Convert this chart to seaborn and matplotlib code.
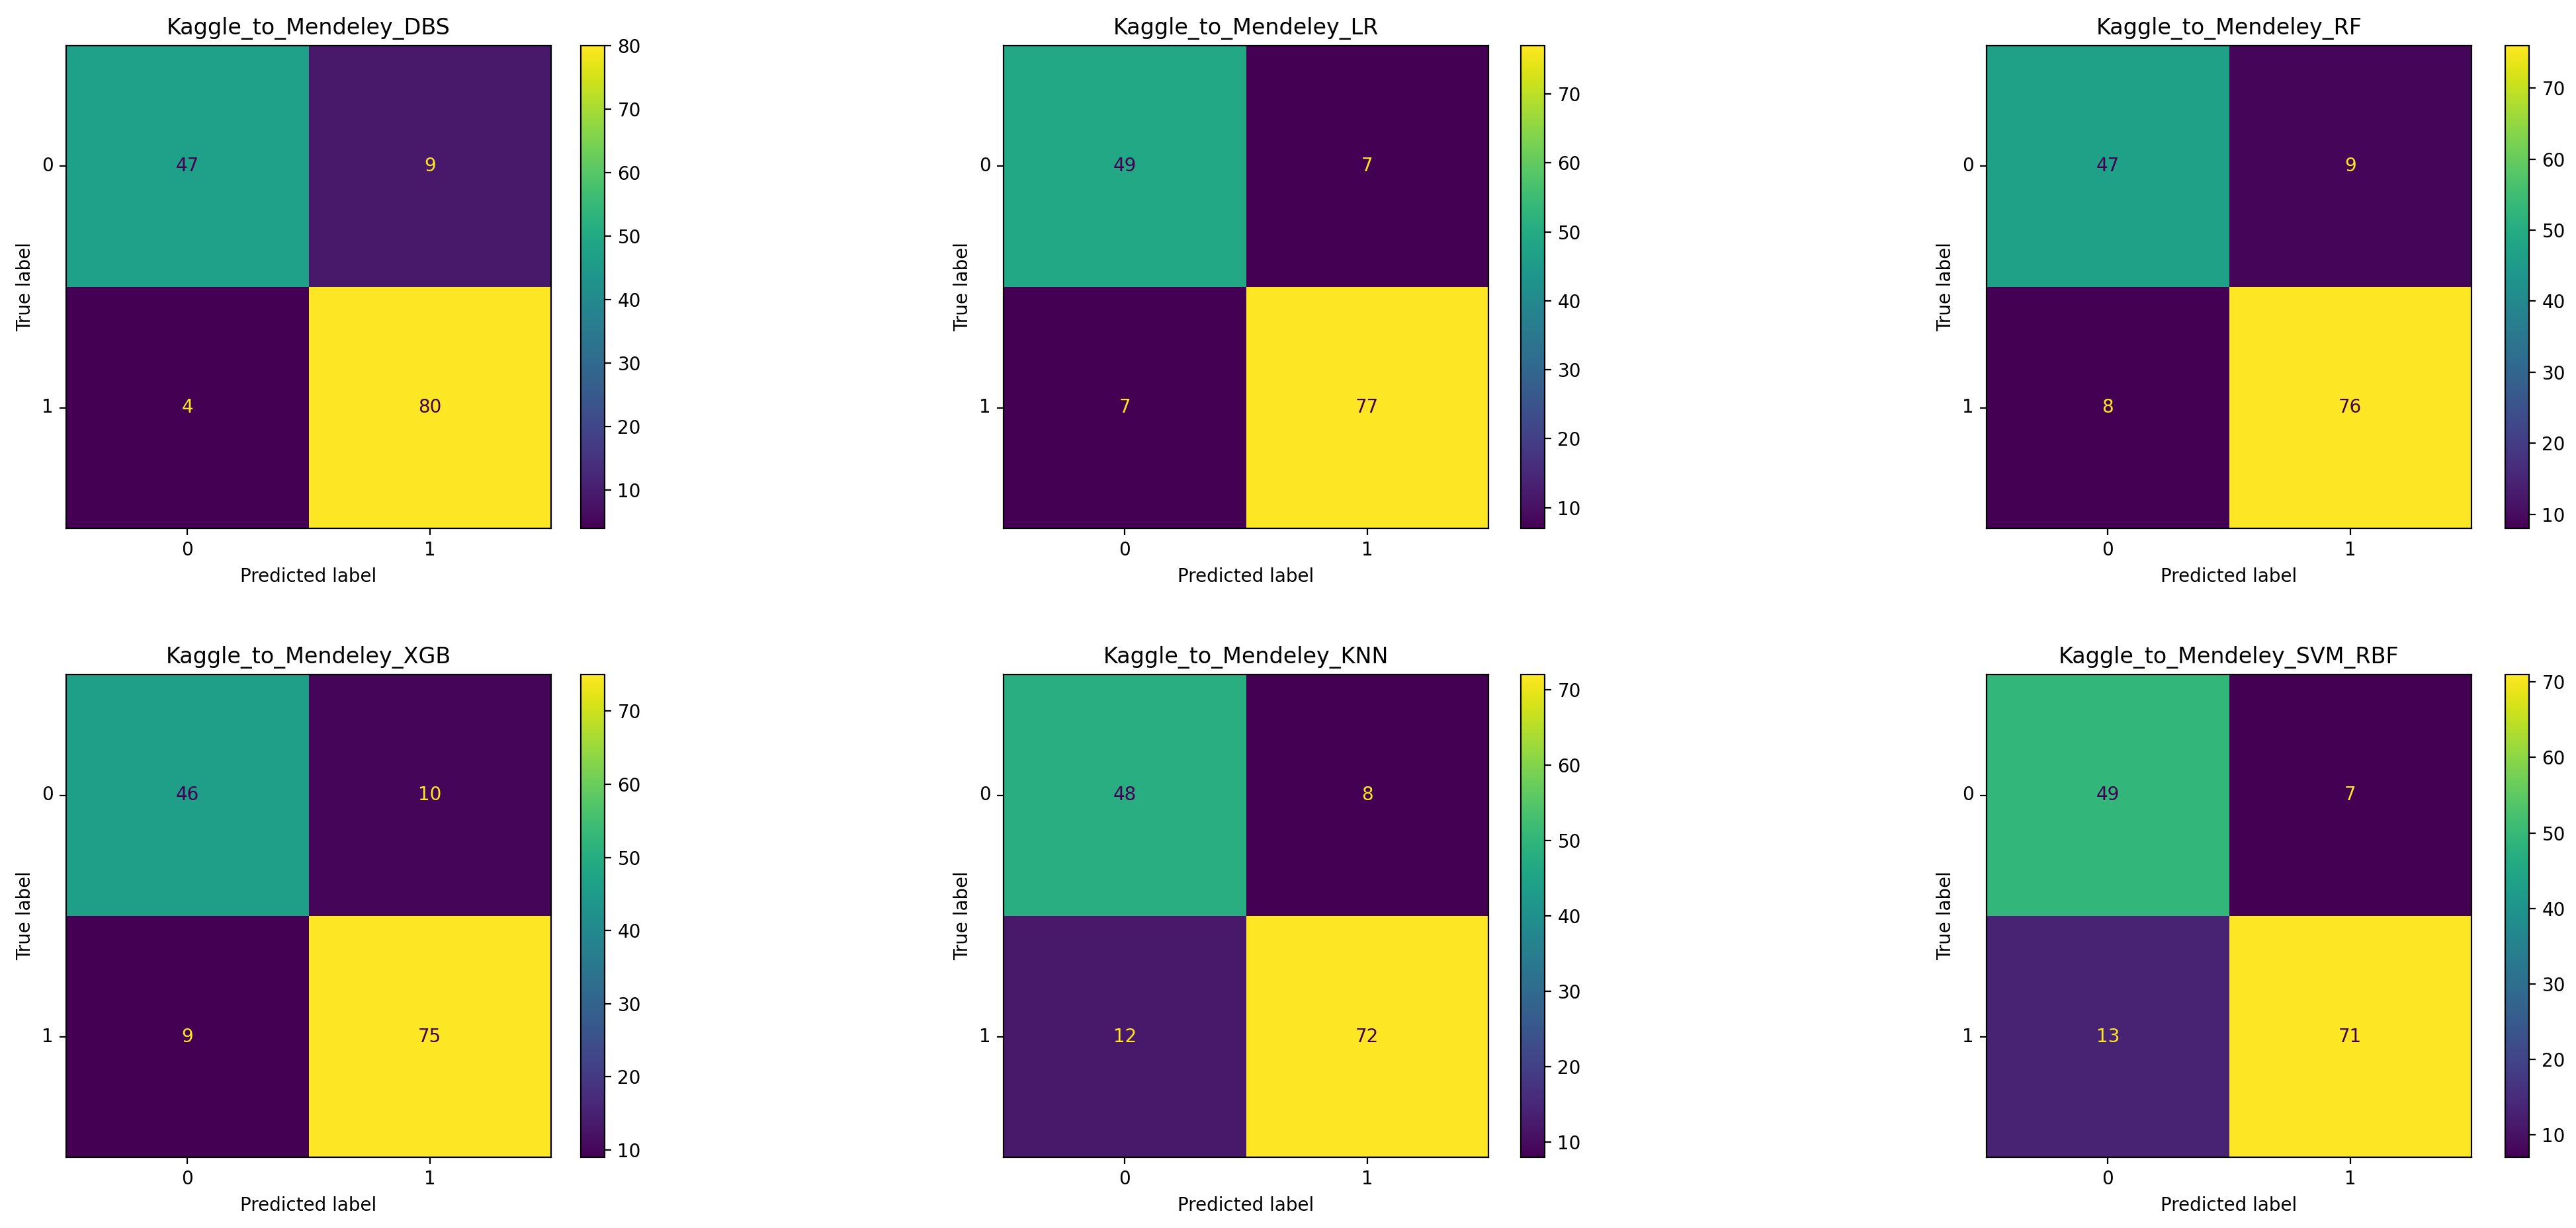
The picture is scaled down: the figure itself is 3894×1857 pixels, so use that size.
import numpy as np
import matplotlib
matplotlib.use("Agg")
import matplotlib.pyplot as plt
import seaborn as sns

# ---- data ----
titles = ["Kaggle_to_Mendeley_DBS", "Kaggle_to_Mendeley_LR", "Kaggle_to_Mendeley_RF",
          "Kaggle_to_Mendeley_XGB", "Kaggle_to_Mendeley_KNN", "Kaggle_to_Mendeley_SVM_RBF"]
labels = ["0", "1"]
cm_dbs = [[47, 9], [4, 80]]
cm_lr = [[49, 7], [7, 77]]
cm_rf = [[47, 9], [8, 76]]
cm_xgb = [[46, 10], [9, 75]]
cm_knn = [[48, 8], [12, 72]]
cm_svm = [[49, 7], [13, 71]]
matrices = [cm_dbs, cm_lr, cm_rf, cm_xgb, cm_knn, cm_svm]

plt.rcParams["font.family"] = ["DejaVu Sans"]
W, H = 3894, 1857
DPI = 200
fig = plt.figure(figsize=(W / DPI, H / DPI), dpi=DPI)

col_left = [100, 1517, 3003]
cbar_left = [878, 2299, 3787]
row_top = [69, 1020]
hm_w, hm_h, cb_w = 733, 730, 36

cmap = plt.get_cmap("viridis")
for k, (title, cm) in enumerate(zip(titles, matrices)):
    r, c = divmod(k, 3)
    bottom = (H - row_top[r] - hm_h) / H
    ax = fig.add_axes([col_left[c] / W, bottom, hm_w / W, hm_h / H])
    cax = fig.add_axes([cbar_left[c] / W, bottom, cb_w / W, hm_h / H])
    arr = np.array(cm)
    sns.heatmap(arr, ax=ax, cbar_ax=cax, cmap="viridis", annot=True, fmt="d",
                annot_kws={"fontsize": 10}, xticklabels=labels, yticklabels=labels,
                square=False, linewidths=0)
    thresh = (arr.max() + arr.min()) / 2.0
    flat = arr.flatten()
    for t, v in zip(ax.texts, flat):
        t.set_color(cmap(1.0) if v < thresh else cmap(0.0))
    for s in ax.spines.values():
        s.set_visible(True)
        s.set_color("black")
        s.set_linewidth(0.8)
    ax.tick_params(axis="both", which="major", length=3.5, width=0.8, labelsize=10, left=True, bottom=True)
    ax.set_yticklabels(labels, rotation=0)
    ax.set_xticklabels(labels, rotation=0)
    ax.set_xlabel("Predicted label", fontsize=10)
    ax.set_ylabel("True label", fontsize=10)
    ax.set_title(title, fontsize=12)
    cax.tick_params(labelsize=10, length=3.5, width=0.8)
    cb = ax.collections[0].colorbar
    cb.outline.set_visible(True)
    cb.outline.set_edgecolor("black")
    cb.outline.set_linewidth(0.8)

fig.savefig("out.png", dpi=DPI, facecolor="white")
